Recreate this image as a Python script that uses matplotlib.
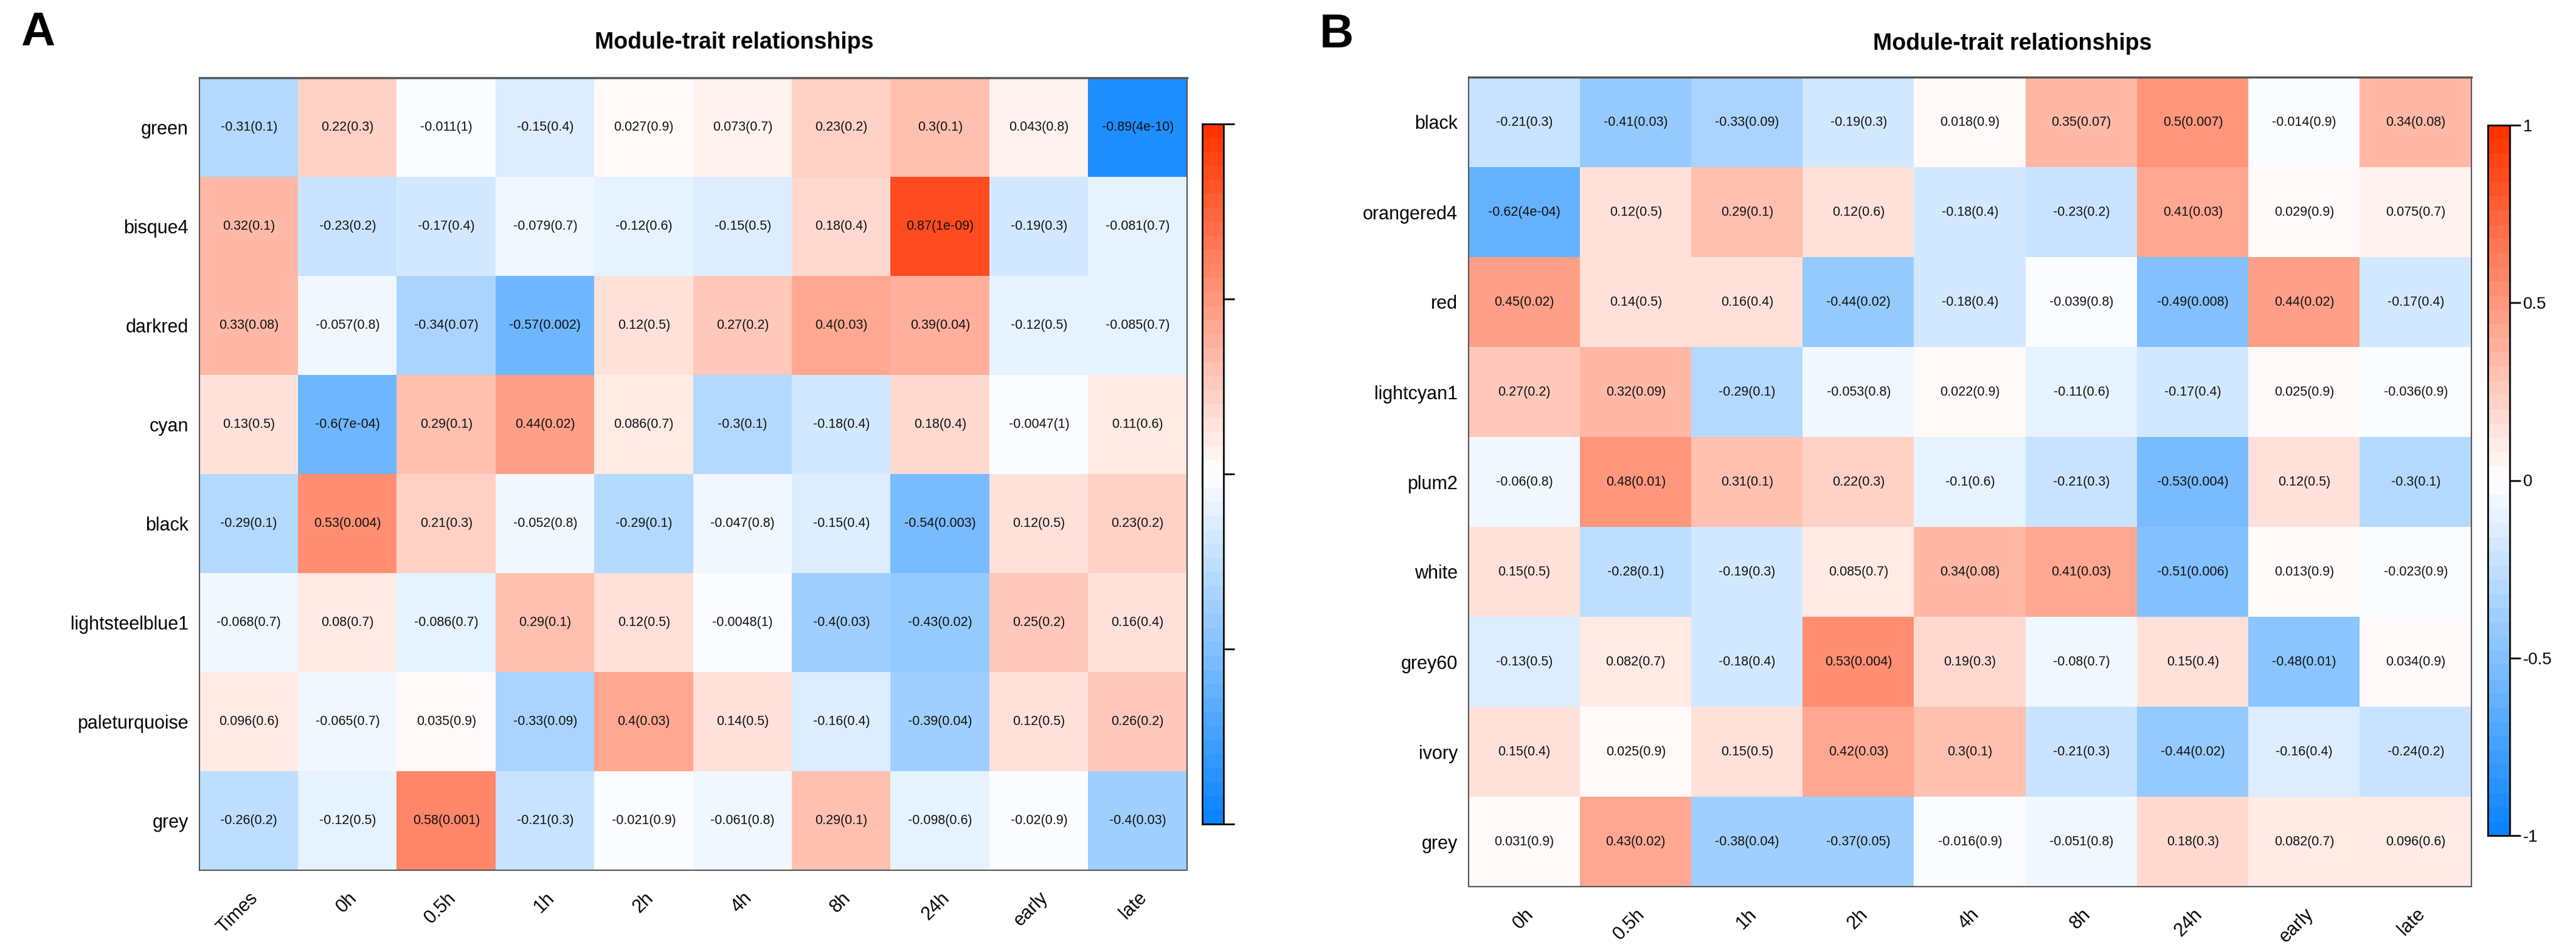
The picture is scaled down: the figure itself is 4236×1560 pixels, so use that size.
import numpy as np
import matplotlib
matplotlib.use("Agg")
import matplotlib.pyplot as plt
from matplotlib.colors import LinearSegmentedColormap

plt.rcParams['font.family'] = ['Liberation Sans', 'DejaVu Sans']
plt.rcParams['axes.unicode_minus'] = False

# ---- panel A data ----
modules_a = ["green", "bisque4", "darkred", "cyan", "black",
             "lightsteelblue1", "paleturquoise", "grey"]
traits_a = ["Times", "0h", "0.5h", "1h", "2h", "4h", "8h", "24h", "early", "late"]
cor_a = [
    [-0.31, 0.22, -0.011, -0.15, 0.027, 0.073, 0.23, 0.3, 0.043, -0.89],
    [0.32, -0.23, -0.17, -0.079, -0.12, -0.15, 0.18, 0.87, -0.19, -0.081],
    [0.33, -0.057, -0.34, -0.57, 0.12, 0.27, 0.4, 0.39, -0.12, -0.085],
    [0.13, -0.6, 0.29, 0.44, 0.086, -0.3, -0.18, 0.18, -0.0047, 0.11],
    [-0.29, 0.53, 0.21, -0.052, -0.29, -0.047, -0.15, -0.54, 0.12, 0.23],
    [-0.068, 0.08, -0.086, 0.29, 0.12, -0.0048, -0.4, -0.43, 0.25, 0.16],
    [0.096, -0.065, 0.035, -0.33, 0.4, 0.14, -0.16, -0.39, 0.12, 0.26],
    [-0.26, -0.12, 0.58, -0.21, -0.021, -0.061, 0.29, -0.098, -0.02, -0.4],
]
pval_a = [
    ["0.1", "0.3", "1", "0.4", "0.9", "0.7", "0.2", "0.1", "0.8", "4e-10"],
    ["0.1", "0.2", "0.4", "0.7", "0.6", "0.5", "0.4", "1e-09", "0.3", "0.7"],
    ["0.08", "0.8", "0.07", "0.002", "0.5", "0.2", "0.03", "0.04", "0.5", "0.7"],
    ["0.5", "7e-04", "0.1", "0.02", "0.7", "0.1", "0.4", "0.4", "1", "0.6"],
    ["0.1", "0.004", "0.3", "0.8", "0.1", "0.8", "0.4", "0.003", "0.5", "0.2"],
    ["0.7", "0.7", "0.7", "0.1", "0.5", "1", "0.03", "0.02", "0.2", "0.4"],
    ["0.6", "0.7", "0.9", "0.09", "0.03", "0.5", "0.4", "0.04", "0.5", "0.2"],
    ["0.2", "0.5", "0.001", "0.3", "0.9", "0.8", "0.1", "0.6", "0.9", "0.03"],
]

# ---- panel B data ----
modules_b = ["black", "orangered4", "red", "lightcyan1", "plum2",
             "white", "grey60", "ivory", "grey"]
traits_b = ["0h", "0.5h", "1h", "2h", "4h", "8h", "24h", "early", "late"]
cor_b = [
    [-0.21, -0.41, -0.33, -0.19, 0.018, 0.35, 0.5, -0.014, 0.34],
    [-0.62, 0.12, 0.29, 0.12, -0.18, -0.23, 0.41, 0.029, 0.075],
    [0.45, 0.14, 0.16, -0.44, -0.18, -0.039, -0.49, 0.44, -0.17],
    [0.27, 0.32, -0.29, -0.053, 0.022, -0.11, -0.17, 0.025, -0.036],
    [-0.06, 0.48, 0.31, 0.22, -0.1, -0.21, -0.53, 0.12, -0.3],
    [0.15, -0.28, -0.19, 0.085, 0.34, 0.41, -0.51, 0.013, -0.023],
    [-0.13, 0.082, -0.18, 0.53, 0.19, -0.08, 0.15, -0.48, 0.034],
    [0.15, 0.025, 0.15, 0.42, 0.3, -0.21, -0.44, -0.16, -0.24],
    [0.031, 0.43, -0.38, -0.37, -0.016, -0.051, 0.18, 0.082, 0.096],
]
pval_b = [
    ["0.3", "0.03", "0.09", "0.3", "0.9", "0.07", "0.007", "0.9", "0.08"],
    ["4e-04", "0.5", "0.1", "0.6", "0.4", "0.2", "0.03", "0.9", "0.7"],
    ["0.02", "0.5", "0.4", "0.02", "0.4", "0.8", "0.008", "0.02", "0.4"],
    ["0.2", "0.09", "0.1", "0.8", "0.9", "0.6", "0.4", "0.9", "0.9"],
    ["0.8", "0.01", "0.1", "0.3", "0.6", "0.3", "0.004", "0.5", "0.1"],
    ["0.5", "0.1", "0.3", "0.7", "0.08", "0.03", "0.006", "0.9", "0.9"],
    ["0.5", "0.7", "0.4", "0.004", "0.3", "0.7", "0.4", "0.01", "0.9"],
    ["0.4", "0.9", "0.5", "0.03", "0.1", "0.3", "0.02", "0.4", "0.2"],
    ["0.9", "0.02", "0.04", "0.05", "0.9", "0.8", "0.3", "0.7", "0.6"],
]

cmap = LinearSegmentedColormap.from_list("bwr_wgcna", ["#0A84FF", "#FFFFFF", "#FF3300"], N=50)

W, H = 4236, 1560
fig = plt.figure(figsize=(W / 100, H / 100), dpi=100)


def px_box(x0, y0, x1, y1):
    # pixel box (top-left origin) -> figure fraction rect
    return [x0 / W, 1 - y1 / H, (x1 - x0) / W, (y1 - y0) / H]


def heatmap(ax, cax, cor, pval, rows, cols, cbar_labels):
    data = np.array(cor)
    im = ax.imshow(data, cmap=cmap, vmin=-1, vmax=1, aspect="auto",
                   interpolation="nearest")
    for i in range(len(rows)):
        for j in range(len(cols)):
            ax.text(j, i, "%s(%s)" % (cor[i][j], pval[i][j]), ha="center",
                    va="center", fontsize=15.5, color="#111111")
    ax.set_yticks(range(len(rows)))
    ax.set_yticklabels(rows, fontsize=22)
    ax.set_xticks(range(len(cols)))
    ax.set_xticklabels(cols, fontsize=22, rotation=45, ha="right",
                       rotation_mode="anchor")
    ax.tick_params(axis="both", length=0)
    ax.tick_params(axis="y", pad=13)
    ax.tick_params(axis="x", pad=22)
    for s in ax.spines.values():
        s.set_color("#555555")
        s.set_linewidth(1.5)
    ax.spines["top"].set_linewidth(2.5)

    cb = fig.colorbar(im, cax=cax, ticks=[-1, -0.5, 0, 0.5, 1])
    cb.outline.set_linewidth(2)
    cb.outline.set_edgecolor("black")
    cax.tick_params(length=13, width=2, labelsize=20, pad=3)
    cb.set_ticklabels(cbar_labels)


ax_a = fig.add_axes(px_box(328, 128, 1952, 1432))
cax_a = fig.add_axes(px_box(1977, 204, 2012, 1356))
heatmap(ax_a, cax_a, cor_a, pval_a, modules_a, traits_a, ["", "", "", "", ""])

ax_b = fig.add_axes(px_box(2415, 127, 4064, 1459))
cax_b = fig.add_axes(px_box(4091, 206, 4127, 1375))
heatmap(ax_b, cax_b, cor_b, pval_b, modules_b, traits_b, ["-1", "-0.5", "0", "0.5", "1"])

fig.text(1207 / W, 1 - 80 / H, "Module-trait relationships", ha="center",
         va="baseline", fontsize=27, fontweight="bold")
fig.text(3309 / W, 1 - 82 / H, "Module-trait relationships", ha="center",
         va="baseline", fontsize=27, fontweight="bold")

fig.text(34 / W, 1 - 75 / H, "A", ha="left", va="baseline", fontsize=56, fontweight="bold")
fig.text(2170 / W, 1 - 78 / H, "B", ha="left", va="baseline", fontsize=56, fontweight="bold")

fig.savefig("out.png", dpi=100, facecolor="white")
